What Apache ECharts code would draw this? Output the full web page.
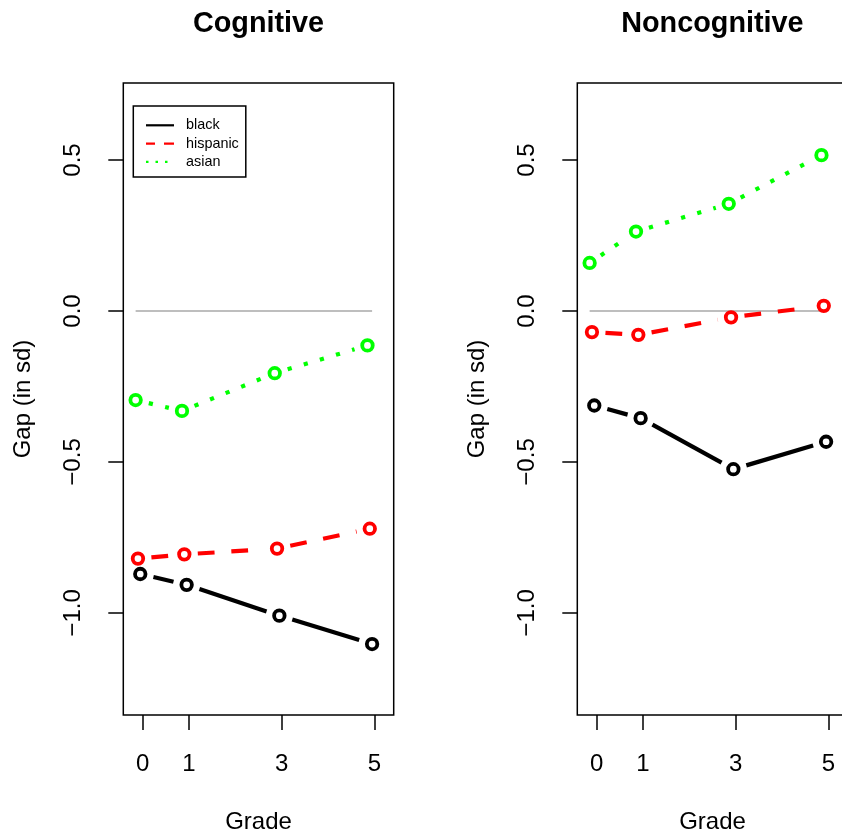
<!DOCTYPE html>
<html><head><meta charset="utf-8">
<script src="https://cdn.jsdelivr.net/npm/echarts@6/dist/echarts.min.js"></script>
<style>html,body{margin:0;padding:0;background:#fff}#c{width:842px;height:836px}</style>
</head><body><div id="c"></div>
<script>
// ---- data ----
const panelTitles = ['Cognitive', 'Noncognitive'];
const gradeTicks = [0, 1, 3, 5];
const yTicks = [-1.0, -0.5, 0.0, 0.5];
const groupNames = ['black', 'hispanic', 'asian'];
// x positions of the (slightly offset) points per group
const blackX = [-0.05, 0.95, 2.95, 4.95];
const hispanicX = [-0.10, 0.90, 2.90, 4.90];
const asianX = [-0.15, 0.85, 2.85, 4.85];
// Cognitive gaps
const cogBlack = [-0.871, -0.907, -1.009, -1.103];
const cogHispanic = [-0.820, -0.806, -0.787, -0.721];
const cogAsian = [-0.295, -0.331, -0.206, -0.114];
// Noncognitive gaps
const nonBlack = [-0.313, -0.355, -0.524, -0.433];
const nonHispanic = [-0.070, -0.079, -0.021, 0.017];
const nonAsian = [0.159, 0.263, 0.355, 0.516];
// reference zero line extents
const zeroCogX = [-0.15, 4.95];
const zeroNonX = [-0.15, 4.86];

const FONT = '"Liberation Sans", Arial, Helvetica, sans-serif';
const styles = {
  black: {color: '#000000', width: 4.2, dash: null},
  hispanic: {color: '#ff0000', width: 4.2, dash: [16.8, 16.8]},
  asian: {color: '#00ff00', width: 4.2, dash: [4.2, 12.6]}
};
const xsByGroup = {black: blackX, hispanic: hispanicX, asian: asianX};
const panelData = [
  {black: cogBlack, hispanic: cogHispanic, asian: cogAsian, zero: zeroCogX},
  {black: nonBlack, hispanic: nonHispanic, asian: nonAsian, zero: zeroNonX}
];

const GAP = 13.5;
function segRender(st) {
  return function (params, api) {
    const a = api.coord([api.value(0), api.value(1)]);
    const b = api.coord([api.value(2), api.value(3)]);
    const dx = b[0] - a[0], dy = b[1] - a[1];
    const L = Math.hypot(dx, dy);
    if (L <= 2 * GAP) return null;
    const ux = dx / L, uy = dy / L;
    return {
      type: 'line', silent: true,
      shape: {x1: a[0] + ux * GAP, y1: a[1] + uy * GAP, x2: b[0] - ux * GAP, y2: b[1] - uy * GAP},
      style: {stroke: st.color, lineWidth: st.width, lineDash: st.dash, lineCap: 'butt', fill: null}
    };
  };
}

const grids = [
  {left: 123.3, top: 83, width: 270.4, height: 632},
  {left: 577.3, top: 83, width: 270.4, height: 632}
].map(g => Object.assign(g, {show: true, borderColor: '#000', borderWidth: 1.5, backgroundColor: 'transparent', containLabel: false, outerBoundsMode: 'none'}));

const xAxes = [0, 1].map(i => ({
  type: 'value', gridIndex: i, min: -0.416, max: 5.416, position: 'bottom',
  axisLine: {show: false, onZero: false},
  splitLine: {show: false},
  axisTick: {show: true, length: 15, customValues: gradeTicks, lineStyle: {color: '#000', width: 1.5}},
  axisLabel: {show: true, customValues: gradeTicks, margin: 37, color: '#000', fontSize: 24, fontFamily: FONT,
    formatter: v => String(v)},
  name: 'Grade', nameLocation: 'middle', nameGap: 95,
  nameTextStyle: {color: '#000', fontSize: 24, fontFamily: FONT}
}));
const yAxes = [0, 1].map(i => ({
  type: 'value', gridIndex: i, min: -1.338, max: 0.755, position: 'left',
  axisLine: {show: false, onZero: false},
  splitLine: {show: false},
  axisTick: {show: true, length: 15, customValues: yTicks, lineStyle: {color: '#000', width: 1.5}},
  axisLabel: {show: true, customValues: yTicks, rotate: 90, margin: 38, color: '#000', fontSize: 24, fontFamily: FONT,
    formatter: v => v.toFixed(1).replace('-', '\u2212')},
  name: 'Gap (in sd)', nameLocation: 'middle', nameGap: 88,
  nameTextStyle: {color: '#000', fontSize: 24, fontFamily: FONT}
}));

const series = [];
panelData.forEach((pd, p) => {
  series.push({
    type: 'line', xAxisIndex: p, yAxisIndex: p, name: 'zero' + p, silent: true,
    data: pd.zero.map(x => [x, 0]), symbol: 'none',
    lineStyle: {color: '#bebebe', width: 2}, z: 1
  });
  groupNames.forEach((g, gi) => {
    const xs = xsByGroup[g], ys = pd[g], st = styles[g];
    const segs = [];
    for (let k = 0; k < xs.length - 1; k++) segs.push([xs[k], ys[k], xs[k + 1], ys[k + 1]]);
    series.push({
      type: 'custom', name: g, xAxisIndex: p, yAxisIndex: p, silent: true,
      itemStyle: {color: st.color},
      encode: {x: [0, 2], y: [1, 3]},
      data: segs, renderItem: segRender(st), z: 2 + gi
    });
    series.push({
      type: 'scatter', name: g + '_pts' + p, xAxisIndex: p, yAxisIndex: p, silent: true,
      data: xs.map((x, k) => [x, ys[k]]),
      symbol: 'circle', symbolSize: 10.5,
      itemStyle: {color: 'rgba(0,0,0,0)', borderColor: st.color, borderWidth: 3.8, opacity: 1},
      emphasis: {disabled: true}, z: 2 + gi
    });
  });
});

const option = {
  animation: false,
  backgroundColor: '#ffffff',
  textStyle: {fontFamily: FONT},
  title: panelTitles.map((t, i) => ({
    text: t, left: i === 0 ? 258.5 : 712.4, top: 10, textAlign: 'center', padding: 0,
    textStyle: {fontSize: 28.8, fontWeight: 'bold', color: '#000', fontFamily: FONT}
  })),
  legend: {
    orient: 'vertical', left: 133.3, top: 106,
    padding: [12.3, 7, 8.2, 12.7], itemGap: 4.3,
    itemWidth: 42, itemHeight: 2.2, symbolKeepAspect: true,
    borderColor: '#000', borderWidth: 1.5, backgroundColor: '#fff',
    selectedMode: false,
    textStyle: {color: '#000', fontSize: 14.4, fontFamily: FONT},
    itemStyle: {borderWidth: 0},
    data: [
      {name: 'black', icon: 'path://M0,0H28V2.2H0Z'},
      {name: 'hispanic', icon: 'path://M0,0H9V2.2H0Z M18,0H28V2.2H18Z'},
      {name: 'asian', icon: 'path://M28,2.2 M0,0H2.5V2.2H0Z M9.5,0H12V2.2H9.5Z M19,0H21.5V2.2H19Z'}
    ]
  },
  grid: grids, xAxis: xAxes, yAxis: yAxes, series: series
};
const chart = echarts.init(document.getElementById('c'), null, {renderer: 'canvas'});
chart.setOption(option);
</script></body></html>
